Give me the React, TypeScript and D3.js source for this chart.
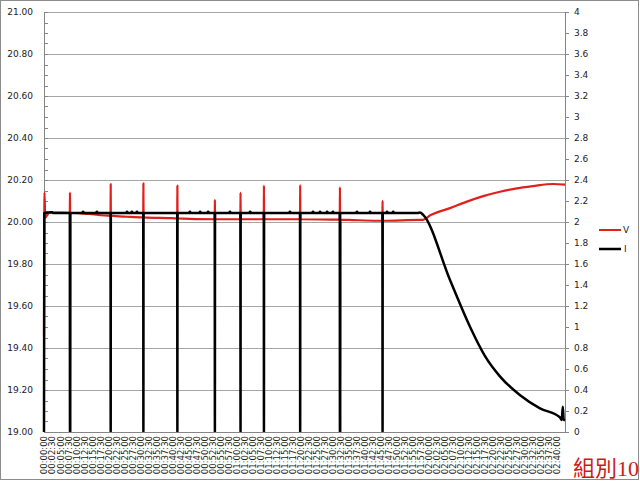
import React from "react";
import * as d3 from "d3";

// time in minutes from start, V on the left axis, I on the right axis
const timeLabels = [
  "00:00:00", "00:02:30", "00:05:00", "00:07:30", "00:10:00", "00:12:30", "00:15:00", "00:17:30",
  "00:20:00", "00:22:30", "00:25:00", "00:27:30", "00:30:00", "00:32:30", "00:35:00", "00:37:30",
  "00:40:00", "00:42:30", "00:45:00", "00:47:30", "00:50:00", "00:52:30", "00:55:00", "00:57:30",
  "01:00:00", "01:02:30", "01:05:00", "01:07:30", "01:10:00", "01:12:30", "01:15:00", "01:17:30",
  "01:20:00", "01:22:30", "01:25:00", "01:27:30", "01:30:00", "01:32:30", "01:35:00", "01:37:30",
  "01:40:00", "01:42:30", "01:45:00", "01:47:30", "01:50:00", "01:52:30", "01:55:00", "01:57:30",
  "02:00:00", "02:02:30", "02:05:00", "02:07:30", "02:10:00", "02:12:30", "02:15:00", "02:17:30",
  "02:20:00", "02:22:30", "02:25:00", "02:27:30", "02:30:00", "02:32:30", "02:35:00", "02:37:30",
  "02:40:00",
];
const labelStep = 2.5;

const leftTicks = [19, 19.2, 19.4, 19.6, 19.8, 20, 20.2, 20.4, 20.6, 20.8, 21];
const rightTicks = ["0", "0.2", "0.4", "0.6", "0.8", "1", "1.2", "1.4", "1.6", "1.8", "2",
  "2.2", "2.4", "2.6", "2.8", "3", "3.2", "3.4", "3.6", "3.8", "4"];

// V trend [t, V]
const vTrend: [number, number][] = [
  [0, 19.46], [0.15, 20.14], [0.4, 20.02], [0.9, 20.03], [1.6, 20.045], [8, 20.044],
  [14, 20.038], [26, 20.025], [40, 20.018], [53, 20.013], [80, 20.013], [95, 20.01],
  [104, 20.006], [117.5, 20.01], [118.2, 20.01], [120.6, 20.033], [126.6, 20.066],
  [131.9, 20.097], [137, 20.123], [142.2, 20.144], [147, 20.159], [152.5, 20.171],
  [158.8, 20.181], [162.5, 20.178],
];
// V spikes [t, base, peak]
const vSpikes: [number, number, number][] = [
  [8.1, 20.044, 20.14], [20.8, 20.03, 20.18], [31.0, 20.022, 20.184], [41.6, 20.017, 20.173],
  [53.3, 20.013, 20.105], [61.3, 20.013, 20.14], [68.6, 20.013, 20.173], [79.9, 20.013, 20.176],
  [92.3, 20.011, 20.165], [105.6, 20.006, 20.101],
];
// V dips to the floor [t, base]
const vDips: [number, number][] = [[8.25, 20.044], [92.45, 20.011]];

// I plateau, drops to zero, small bumps, and the tail
const iLevel = 2.085;
const iBumpLevel = 2.097;
const iStart: [number, number][] = [[0, 0], [0.1, 2.085], [2.5, 2.092], [3, 2.085]];
const iDrops = [8.1, 20.8, 31.0, 41.6, 53.3, 61.3, 68.6, 79.9, 92.3, 105.6];
const iBumps = [12.2, 16.5, 25.9, 27.4, 29.0, 45.5, 48.7, 51.2, 58.0, 64.3, 76.7, 83.9,
  86.1, 88.3, 90.1, 97.6, 101.7, 107.0, 108.9];
const iTail: [number, number][] = [
  [116.5, 2.085], [117.3, 2.09], [118.2, 2.07], [126.6, 1.45], [132.9, 1.0], [137.6, 0.72],
  [142.2, 0.53], [148.5, 0.35], [154.7, 0.225], [160.9, 0.14], [161.5, 0.115], [161.8, 0.24],
  [162.1, 0.12], [162.5, 0.11],
];

const W = 640;
const H = 481;
const left = 44, right = 565, top = 12, bottom = 432;

function buildV(): [number, number][] {
  const pts: [number, number][] = [...vTrend];
  vSpikes.forEach(([t, b, p]) => pts.push([t - 0.05, b], [t, p], [t + 0.05, b]));
  vDips.forEach(([t, b]) => pts.push([t - 0.03, b], [t, 18.9], [t + 0.03, b]));
  return pts.sort((a, b) => a[0] - b[0]);
}

function buildI(): [number, number][] {
  const pts: [number, number][] = [...iStart, ...iTail];
  iDrops.forEach((t) => pts.push([t - 0.05, iLevel], [t, 0], [t + 0.05, iLevel]));
  iBumps.forEach((t) => pts.push([t - 0.25, iLevel], [t - 0.1, iBumpLevel], [t + 0.1, iBumpLevel], [t + 0.25, iLevel]));
  return pts.sort((a, b) => a[0] - b[0]);
}

export default function App() {
  const x = d3.scaleLinear().domain([0, 162.5]).range([left, right]);
  const yV = d3.scaleLinear().domain([19, 21]).range([bottom, top]);
  const yI = d3.scaleLinear().domain([0, 4]).range([bottom, top]);

  const vLine = d3.line<[number, number]>().x((d) => x(d[0])).y((d) => yV(d[1])).curve(d3.curveMonotoneX);
  const iLine = d3.line<[number, number]>().x((d) => x(d[0])).y((d) => yI(d[1])).curve(d3.curveMonotoneX);

  const minor = d3.range(19, 21.001, 0.05);
  const font = "'DejaVu Sans', Verdana, sans-serif";

  return (
    <svg width={W} height={H} style={{ position: "absolute", left: 0, top: 0, background: "#fff" }}>
      <defs>
        <clipPath id="plotClip">
          <rect x={0} y={top - 4} width={W} height={bottom - top + 4} />
        </clipPath>
      </defs>
      <rect x={0.5} y={0.5} width={W - 2} height={H - 2} fill="#fff" stroke="#8c8c8c" />

      {/* gridlines */}
      {leftTicks.map((v) => (
        <line key={v} x1={left} x2={right} y1={Math.round(yV(v)) + 0.5} y2={Math.round(yV(v)) + 0.5}
          stroke="#a6a6a6" />
      ))}

      {/* left axis */}
      <line x1={left + 0.5} x2={left + 0.5} y1={top} y2={bottom} stroke="#868686" />
      {minor.map((v, i) => (
        <line key={i} x1={left} x2={left + 4} y1={Math.round(yV(v)) + 0.5} y2={Math.round(yV(v)) + 0.5}
          stroke="#868686" />
      ))}
      {leftTicks.map((v) => (
        <text key={v} x={33} y={yV(v)} dy="0.35em" textAnchor="end" fontFamily={font} fontSize={9}
          fill="#222">{v.toFixed(2)}</text>
      ))}

      {/* right axis */}
      <line x1={right + 0.5} x2={right + 0.5} y1={top} y2={bottom} stroke="#868686" />
      {rightTicks.map((s) => (
        <g key={s}>
          <line x1={right} x2={right + 4} y1={Math.round(yI(+s)) + 0.5} y2={Math.round(yI(+s)) + 0.5}
            stroke="#868686" />
          <text x={574} y={yI(+s)} dy="0.35em" fontFamily={font} fontSize={9} fill="#222">{s}</text>
        </g>
      ))}

      {/* x axis */}
      <line x1={left} x2={right} y1={bottom + 0.5} y2={bottom + 0.5} stroke="#868686" />
      {timeLabels.map((s, i) => (
        <text key={s} transform={`translate(${x(i * labelStep) + 0.5},436) rotate(-90)`} dy="0.35em"
          textAnchor="end" fontFamily={font} fontSize={8.5} fill="#222">{s}</text>
      ))}

      {/* series */}
      <g clipPath="url(#plotClip)">
        <path d={vLine(buildV()) ?? ""} fill="none" stroke="#e0201c" strokeWidth={2.2} strokeLinejoin="round" />
        <path d={iLine(buildI()) ?? ""} fill="none" stroke="#000" strokeWidth={2.5} strokeLinejoin="round" />
      </g>

      {/* legend */}
      <line x1={599} x2={621} y1={230} y2={230} stroke="#e0201c" strokeWidth={2} />
      <text x={623} y={230} dy="0.35em" fontFamily={font} fontSize={9} fill="#222">V</text>
      <line x1={599} x2={621} y1={249} y2={249} stroke="#000" strokeWidth={2.5} />
      <text x={624} y={249} dy="0.35em" fontFamily={font} fontSize={9} fill="#222">I</text>

      <text x={573} y={476} fontFamily="'Liberation Serif', 'Noto Sans CJK TC', serif" fontSize={22}
        fill="#d01818">組別10</text>
    </svg>
  );
}
